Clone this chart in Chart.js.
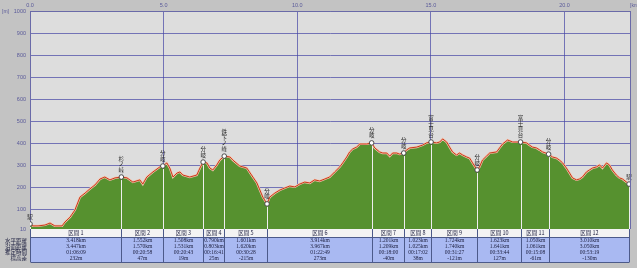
<!DOCTYPE html>
<html>
<head>
<meta charset="utf-8">
<script src="https://cdn.jsdelivr.net/npm/chart.js@4/dist/chart.umd.min.js"></script>
<style>
html, body { margin: 0; padding: 0; background: #c3c3c3; }
#wrap { width: 637px; height: 268px; }
</style>
</head>
<body>
<div id="wrap"><canvas id="chart" width="637" height="268"></canvas></div>
<script>
// profile (distance km / elevation m)
const distKm = [
    0, 0.11, 0.30, 0.56, 0.75, 0.93, 1.20, 1.31, 1.50, 1.68,
    1.87, 2.06, 2.24, 2.43, 2.62, 2.80, 2.99, 3.18, 3.418, 3.63,
    3.85, 4.11, 4.22, 4.37, 4.60, 4.86, 4.970, 5.12, 5.23, 5.35,
    5.50, 5.61, 5.72, 5.98, 6.24, 6.36, 6.478, 6.62, 6.73, 6.84,
    6.99, 7.10, 7.268, 7.48, 7.59, 7.85, 8.11, 8.34, 8.49, 8.60,
    8.71, 8.869, 8.97, 9.16, 9.35, 9.53, 9.72, 9.91, 10.09, 10.28,
    10.47, 10.65, 10.84, 11.03, 11.21, 11.40, 11.59, 11.70, 11.85, 11.96,
    12.07, 12.22, 12.34, 12.60, 12.783, 12.90, 13.08, 13.20, 13.35, 13.46,
    13.57, 13.72, 13.83, 13.984, 14.09, 14.21, 14.47, 14.69, 14.84, 15.007,
    15.21, 15.33, 15.44, 15.59, 15.70, 15.81, 15.96, 16.07, 16.19, 16.34,
    16.45, 16.56, 16.731, 16.82, 16.93, 17.08, 17.20, 17.46, 17.57, 17.68,
    17.87, 18.06, 18.354, 18.58, 18.69, 18.80, 18.95, 19.07, 19.18, 19.404,
    19.55, 19.70, 19.81, 19.93, 20.07, 20.19, 20.30, 20.45, 20.56, 20.67,
    20.82, 20.93, 21.05, 21.20, 21.31, 21.42, 21.57, 21.68, 21.79, 21.94,
    22.06, 22.17, 22.32, 22.414
];
const elevM = [
    33, 24, 24, 28, 37, 24, 24, 42, 64, 96,
    155, 173, 192, 210, 237, 246, 233, 242, 246, 242,
    223, 233, 214, 246, 269, 292, 296, 310, 287, 246,
    264, 269, 255, 246, 255, 287, 314, 310, 287, 278,
    301, 323, 341, 337, 323, 296, 287, 246, 219, 187,
    155, 124, 155, 173, 187, 196, 205, 201, 214, 223,
    219, 233, 228, 237, 246, 269, 292, 310, 337, 360,
    373, 382, 396, 396, 401, 378, 360, 355, 355, 341,
    355, 355, 350, 355, 369, 378, 382, 391, 401, 405,
    401, 405, 419, 405, 382, 360, 346, 355, 346, 337,
    332, 310, 278, 292, 323, 341, 355, 360, 378, 396,
    414, 405, 405, 401, 391, 382, 378, 369, 360, 350,
    337, 332, 323, 310, 287, 264, 242, 233, 237, 246,
    269, 278, 287, 292, 301, 287, 310, 301, 278, 255,
    242, 237, 223, 214
];

// waypoints
const pointKm = [0, 3.418, 4.970, 6.478, 7.268, 8.869, 12.783, 13.984, 15.007, 16.731, 18.354, 19.404, 22.414];
const pointElev = [33, 246, 296, 314, 341, 124, 401, 355, 405, 278, 405, 350, 214];
const pointNames = ['駅', '杉ノ峠', '分岐', '分岐', '鉄下ノ峰', '分岐', '分岐', '分岐', '富士見台', '分岐', '富士見台', '分岐', '駅'];

// section table
const sections = ['区間 1', '区間 2', '区間 3', '区間 4', '区間 5', '区間 6', '区間 7', '区間 8', '区間 9', '区間 10', '区間 11', '区間 12'];
const rowLabels = ['水平距離', '沿面距離', '推定時間', '標高差'];
const horizDist = ['3.418km', '1.552km', '1.508km', '0.790km', '1.601km', '3.914km', '1.201km', '1.023km', '1.724km', '1.623km', '1.050km', '3.010km'];
const surfDist = ['3.447km', '1.570km', '1.531km', '0.803km', '1.620km', '3.967km', '1.209km', '1.025km', '1.740km', '1.641km', '1.061km', '3.050km'];
const walkTime = ['01:06:09', '00:20:58', '00:20:43', '00:16:41', '00:30:28', '01:22:49', '00:18:00', '00:17:02', '00:31:27', '00:33:44', '00:15:08', '00:53:19'];
const elevDiff = ['232m', '47m', '19m', '25m', '-215m', '273m', '-40m', '38m', '-121m', '127m', '-61m', '-130m'];

const xTicks = [0, 5, 10, 15, 20];
const yTicks = [10, 100, 200, 300, 400, 500, 600, 700, 800, 900, 1000];

const X_MAX = 22.45;
const GRID = 'rgba(70, 70, 165, 0.7)';
const TICK_COLOR = '#5a5a9a';
const SMALL = { family: 'Liberation Sans', size: 5.5 };

const profile = distKm.map((k, i) => ({ x: k, y: elevM[i] }));
const markers = pointKm.map((k, i) => ({ x: k, y: pointElev[i] }));

const frame = {
    id: 'frame',
    beforeDraw(chart) {
        const { ctx, chartArea: a } = chart;
        ctx.save();
        ctx.fillStyle = '#c3c3c3';
        ctx.fillRect(0, 0, chart.width, chart.height);
        ctx.fillStyle = '#dddddd';
        ctx.fillRect(a.left, a.top, a.right - a.left, a.bottom - a.top);
        ctx.restore();
    },
    afterDatasetsDraw(chart) {
        const { ctx, chartArea: a, scales } = chart;
        ctx.save();
        // white drop lines from each waypoint
        ctx.strokeStyle = '#eeeeee';
        ctx.lineWidth = 1;
        pointKm.forEach((k, i) => {
            const px = Math.round(scales.x.getPixelForValue(k)) + 0.5;
            const py = scales.y.getPixelForValue(pointElev[i]);
            ctx.beginPath();
            ctx.moveTo(px, py + 3);
            ctx.lineTo(px, a.bottom);
            ctx.stroke();
        });
        // vertical names above waypoints
        ctx.fillStyle = '#2a2a2a';
        ctx.font = '5.5px "Noto Sans CJK JP"';
        ctx.textAlign = 'center';
        ctx.textBaseline = 'middle';
        pointNames.forEach((name, i) => {
            const px = scales.x.getPixelForValue(pointKm[i]);
            const py = scales.y.getPixelForValue(pointElev[i]);
            const chars = [...name];
            const top = py - 5 - chars.length * 5.5;
            chars.forEach((c, j) => ctx.fillText(c, px, top + j * 5.5 + 3));
        });
        ctx.restore();
    },
    afterDraw(chart) {
        const { ctx, chartArea: a, scales } = chart;
        ctx.save();
        // right frame
        ctx.strokeStyle = '#6a6aa8';
        ctx.beginPath();
        ctx.moveTo(a.right + 0.5, a.top);
        ctx.lineTo(a.right + 0.5, a.bottom);
        ctx.stroke();

        // units
        ctx.fillStyle = TICK_COLOR;
        ctx.font = '5px "Liberation Sans"';
        ctx.textBaseline = 'middle';
        ctx.textAlign = 'left';
        ctx.fillText('[m]', 2, 12);
        ctx.fillText('[km]', 630, 6);

        // section table
        const xs = pointKm.map(k => Math.round(scales.x.getPixelForValue(k)) + 0.5);
        const top = a.bottom;
        const headBottom = top + 8;
        const bodyBottom = 262;
        const left = xs[0], right = xs[xs.length - 1];
        ctx.fillStyle = '#f3f3f3';
        ctx.fillRect(left, top, right - left, headBottom - top);
        ctx.fillStyle = '#a9b9f2';
        ctx.fillRect(left, headBottom, right - left, bodyBottom - headBottom);

        ctx.strokeStyle = '#4c5a8a';
        ctx.lineWidth = 1;
        xs.forEach(px => {
            ctx.beginPath();
            ctx.moveTo(px, top);
            ctx.lineTo(px, bodyBottom);
            ctx.stroke();
        });
        ctx.beginPath();
        ctx.moveTo(left, headBottom + 0.5);
        ctx.lineTo(right, headBottom + 0.5);
        ctx.moveTo(left, bodyBottom + 0.5);
        ctx.lineTo(right, bodyBottom + 0.5);
        ctx.stroke();

        ctx.fillStyle = '#1e2040';
        ctx.font = '5.5px "Noto Sans CJK JP"';
        ctx.textAlign = 'center';
        sections.forEach((s, i) => {
            ctx.fillText(s, (xs[i] + xs[i + 1]) / 2, top + 4);
        });

        const rows = [horizDist, surfDist, walkTime, elevDiff];
        ctx.font = '5.5px "Liberation Serif"';
        rows.forEach((row, r) => {
            const y = 241 + r * 5.7;
            row.forEach((v, i) => ctx.fillText(v, (xs[i] + xs[i + 1]) / 2, y));
        });

        ctx.textAlign = 'right';
        ctx.font = '5.5px "Noto Sans CJK JP"';
        rowLabels.forEach((l, r) => ctx.fillText(l, 27, 241 + r * 5.7));
        ctx.restore();
    }
};

new Chart(document.getElementById('chart'), {
    type: 'line',
    data: {
        datasets: [
            {
                data: markers,
                showLine: false,
                pointRadius: 2.3,
                pointBackgroundColor: '#ffffff',
                pointBorderColor: '#4a4a4a',
                pointBorderWidth: 1,
                order: 0
            },
            {
                data: profile,
                borderColor: '#c8381a',
                borderWidth: 1,
                pointRadius: 0,
                fill: false,
                tension: 0,
                order: 1
            },
            {
                data: profile,
                borderColor: '#f4c4ae',
                borderWidth: 2.2,
                backgroundColor: '#56912f',
                pointRadius: 0,
                fill: 'start',
                tension: 0,
                order: 2
            }
        ]
    },
    options: {
        responsive: false,
        animation: false,
        devicePixelRatio: 1,
        layout: { padding: { left: 0, right: 7, top: 0, bottom: 39 } },
        plugins: { legend: { display: false }, tooltip: { enabled: false } },
        scales: {
            x: {
                type: 'linear',
                position: 'top',
                min: 0,
                max: X_MAX,
                z: 1,
                afterBuildTicks: s => { s.ticks = xTicks.map(v => ({ value: v })); },
                afterFit: s => { s.height = 11; },
                grid: { color: GRID, drawTicks: false },
                border: { color: '#6a6aa8' },
                ticks: {
                    font: SMALL, color: TICK_COLOR, padding: 2, maxRotation: 0, autoSkip: false,
                    callback: v => v.toFixed(1)
                }
            },
            y: {
                min: 10,
                max: 1000,
                z: 1,
                afterBuildTicks: s => { s.ticks = yTicks.map(v => ({ value: v })); },
                afterFit: s => { s.width = 30; },
                grid: { color: GRID, drawTicks: false },
                border: { color: '#6a6aa8' },
                ticks: {
                    font: SMALL, color: TICK_COLOR, padding: 4, autoSkip: false,
                    callback: v => String(v)
                }
            }
        }
    },
    plugins: [frame]
});
</script>
</body>
</html>
